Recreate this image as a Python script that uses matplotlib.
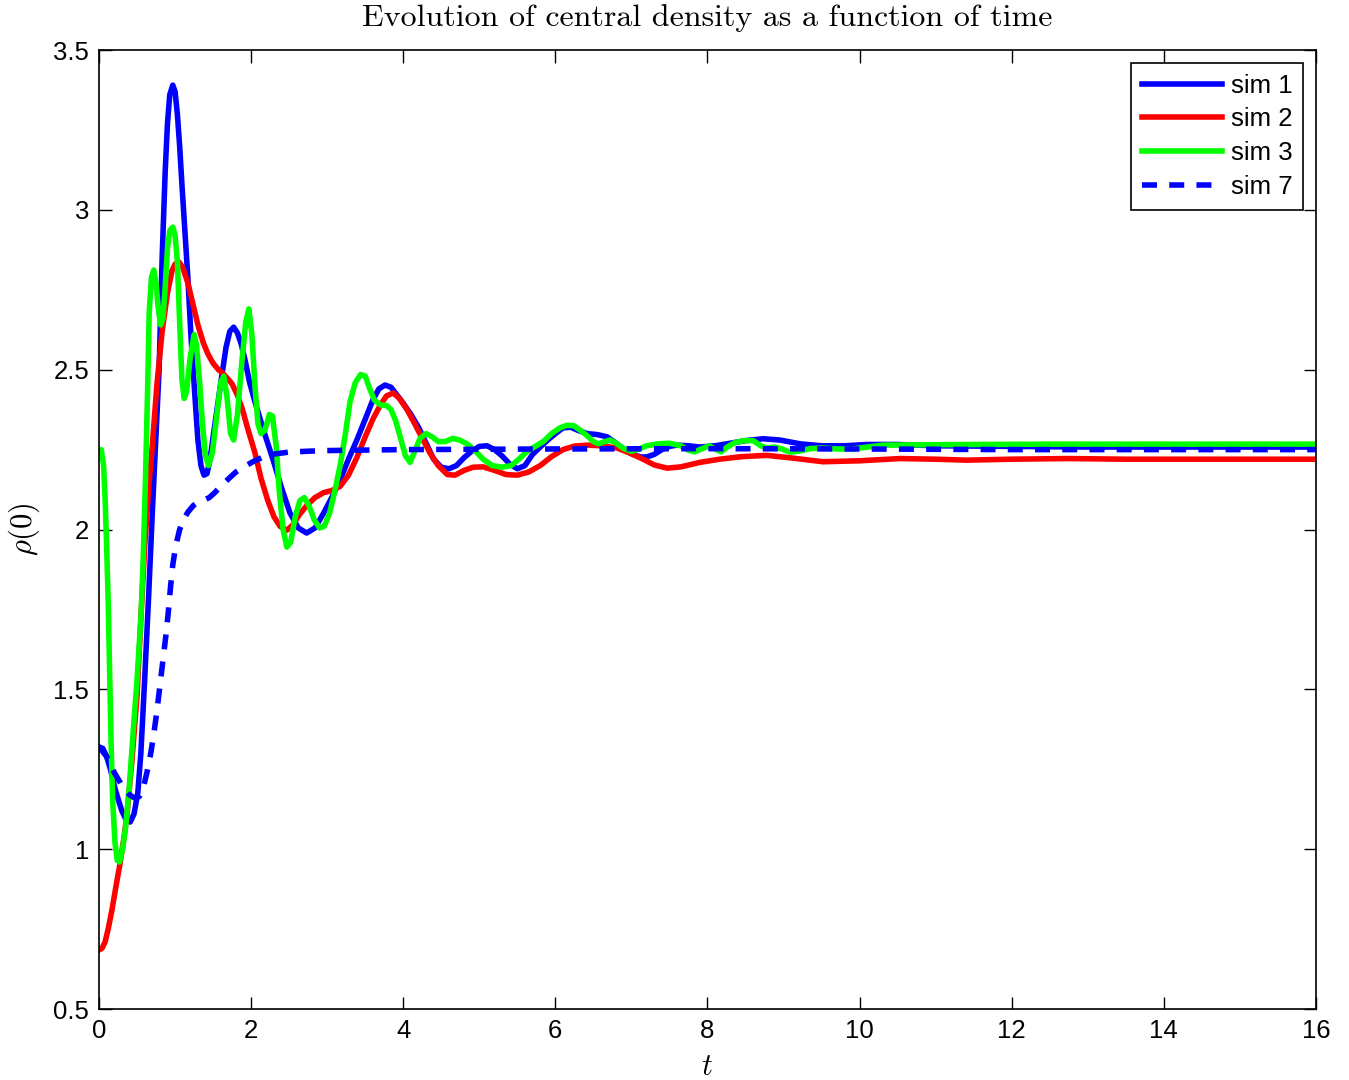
import numpy as np
import matplotlib
matplotlib.use("Agg")
import matplotlib.pyplot as plt

plt.rcParams["font.family"] = ["Liberation Sans", "DejaVu Sans"]
plt.rcParams["mathtext.fontset"] = "cm"

# sim 1 (blue, solid)
t1 = [0.0, 0.05, 0.1, 0.15, 0.21, 0.26, 0.3, 0.35, 0.41, 0.46, 0.51, 0.55, 0.6,
      0.65, 0.7, 0.75, 0.79, 0.83, 0.87, 0.9, 0.93, 0.97, 1.0, 1.03, 1.06, 1.09,
      1.13, 1.17, 1.21, 1.26, 1.3, 1.34, 1.38, 1.42, 1.46, 1.5, 1.56, 1.62, 1.67,
      1.72, 1.77, 1.82, 1.87, 1.92, 1.98, 2.05, 2.15, 2.29, 2.4, 2.51, 2.62,
      2.73, 2.84, 2.95, 3.06, 3.17, 3.28, 3.39, 3.5, 3.6, 3.68, 3.76, 3.84, 3.92,
      4.0, 4.1, 4.2, 4.3, 4.4, 4.5, 4.6, 4.7, 4.8, 4.9, 5.0, 5.1, 5.2, 5.3, 5.4,
      5.5, 5.6, 5.7, 5.8, 5.9, 6.0, 6.1, 6.2, 6.3, 6.42, 6.55, 6.68, 6.8, 6.9,
      7.02, 7.12, 7.2, 7.3, 7.4, 7.5, 7.6, 7.75, 7.9, 8.1, 8.3, 8.5, 8.73, 8.95,
      9.22, 9.5, 9.8, 10.1, 10.5, 11.0, 12.0, 13.0, 14.0, 16.0]
rho1 = [1.32, 1.315, 1.29, 1.25, 1.19, 1.15, 1.12, 1.095, 1.085, 1.11, 1.176,
        1.3, 1.53, 1.78, 2.05, 2.3, 2.5, 2.85, 3.12, 3.27, 3.36, 3.39, 3.37,
        3.3, 3.2, 3.08, 2.93, 2.78, 2.6, 2.42, 2.28, 2.2, 2.17, 2.175, 2.22,
        2.29, 2.39, 2.49, 2.57, 2.62, 2.633, 2.615, 2.58, 2.53, 2.46, 2.4, 2.32,
        2.217, 2.13, 2.052, 2.005, 1.989, 2.005, 2.05, 2.1, 2.155, 2.22, 2.28,
        2.345, 2.405, 2.44, 2.452, 2.445, 2.42, 2.395, 2.36, 2.32, 2.27, 2.22,
        2.195, 2.19, 2.2, 2.225, 2.245, 2.26, 2.262, 2.25, 2.23, 2.205, 2.19,
        2.2, 2.235, 2.258, 2.28, 2.3, 2.318, 2.32, 2.31, 2.3, 2.297, 2.29, 2.27,
        2.25, 2.235, 2.227, 2.227, 2.235, 2.25, 2.26, 2.264, 2.262, 2.258, 2.262,
        2.27, 2.278, 2.284, 2.28, 2.268, 2.262, 2.262, 2.266, 2.266, 2.262, 2.26,
        2.258, 2.258, 2.258]

# sim 2 (red)
t2 = [0.0, 0.04, 0.08, 0.12, 0.17, 0.22, 0.28, 0.33, 0.37, 0.43, 0.5, 0.55, 0.6,
      0.65, 0.7, 0.76, 0.83, 0.9, 0.96, 1.0, 1.05, 1.1, 1.17, 1.23, 1.3, 1.37,
      1.43, 1.5, 1.57, 1.62, 1.7, 1.75, 1.82, 1.88, 1.95, 2.05, 2.13, 2.22, 2.3,
      2.38, 2.47, 2.55, 2.63, 2.73, 2.84, 2.95, 3.06, 3.17, 3.28, 3.39, 3.5, 3.6,
      3.7, 3.78, 3.87, 3.95, 4.05, 4.13, 4.24, 4.35, 4.46, 4.58, 4.68, 4.8, 4.92,
      5.05, 5.2, 5.35, 5.5, 5.65, 5.8, 5.95, 6.1, 6.25, 6.42, 6.6, 6.81, 6.95,
      7.11, 7.3, 7.47, 7.65, 7.9, 8.16, 8.45, 8.78, 9.1, 9.52, 10.0, 10.53, 11.0,
      11.4, 12.0, 12.73, 13.5, 16.0]
rho2 = [0.685, 0.69, 0.71, 0.75, 0.81, 0.88, 0.96, 1.04, 1.113, 1.27, 1.48, 1.72,
        1.945, 2.12, 2.26, 2.45, 2.62, 2.74, 2.81, 2.83, 2.837, 2.82, 2.77, 2.71,
        2.64, 2.585, 2.55, 2.52, 2.5, 2.49, 2.47, 2.455, 2.42, 2.38, 2.32, 2.24,
        2.16, 2.09, 2.04, 2.01, 1.998, 2.015, 2.045, 2.075, 2.1, 2.115, 2.122,
        2.135, 2.17, 2.225, 2.29, 2.345, 2.39, 2.418, 2.427, 2.41, 2.375, 2.34,
        2.29, 2.24, 2.2, 2.172, 2.17, 2.185, 2.195, 2.196, 2.185, 2.172, 2.17,
        2.18, 2.2, 2.228, 2.25, 2.261, 2.264, 2.262, 2.255, 2.242, 2.225, 2.202,
        2.192, 2.196, 2.21, 2.22, 2.228, 2.232, 2.224, 2.212, 2.215, 2.222, 2.22,
        2.217, 2.22, 2.222, 2.22, 2.22]

# sim 3 (green)
t3 = [0.0, 0.03, 0.06, 0.08, 0.1, 0.12, 0.14, 0.16, 0.18, 0.21, 0.24, 0.27, 0.31,
      0.35, 0.4, 0.45, 0.5, 0.55, 0.58, 0.61, 0.64, 0.66, 0.69, 0.72, 0.75, 0.78,
      0.81, 0.84, 0.87, 0.9, 0.93, 0.97, 1.0, 1.03, 1.06, 1.09, 1.12, 1.15, 1.2,
      1.25, 1.28, 1.32, 1.36, 1.4, 1.44, 1.49, 1.55, 1.6, 1.64, 1.68, 1.73, 1.77,
      1.82, 1.88, 1.93, 1.97, 2.01, 2.05, 2.09, 2.13, 2.18, 2.24, 2.28, 2.33,
      2.37, 2.42, 2.47, 2.52, 2.58, 2.64, 2.7, 2.76, 2.83, 2.9, 2.96, 3.03, 3.1,
      3.17, 3.24, 3.3, 3.37, 3.44, 3.5, 3.56, 3.62, 3.7, 3.78, 3.84, 3.9, 3.96,
      4.03, 4.09, 4.16, 4.22, 4.3, 4.38, 4.46, 4.55, 4.65, 4.74, 4.84, 4.95,
      5.05, 5.17, 5.3, 5.42, 5.52, 5.63, 5.75, 5.84, 5.95, 6.06, 6.15, 6.24,
      6.33, 6.42, 6.5, 6.57, 6.65, 6.72, 6.8, 6.9, 7.0, 7.1, 7.2, 7.35, 7.5,
      7.65, 7.75, 7.83, 7.92, 8.02, 8.1, 8.18, 8.26, 8.36, 8.48, 8.6, 8.7, 8.78,
      8.88, 8.98, 9.08, 9.2, 9.35, 9.5, 9.7, 9.9, 10.1, 10.31, 10.8, 11.5, 12.5,
      14.0, 16.0]
rho3 = [2.242, 2.25, 2.2, 2.1, 1.95, 1.78, 1.55, 1.32, 1.15, 1.02, 0.965, 0.96,
        1.0, 1.07, 1.2, 1.37, 1.53, 1.72, 1.9, 2.15, 2.45, 2.68, 2.79, 2.812,
        2.77, 2.69, 2.64, 2.66, 2.76, 2.88, 2.935, 2.946, 2.92, 2.84, 2.65, 2.47,
        2.41, 2.43, 2.54, 2.61, 2.58, 2.47, 2.33, 2.23, 2.2, 2.24, 2.36, 2.46,
        2.48, 2.42, 2.3, 2.28, 2.36, 2.53, 2.65, 2.69, 2.61, 2.45, 2.33, 2.3,
        2.31, 2.36, 2.355, 2.26, 2.12, 2.0, 1.945, 1.96, 2.04, 2.09, 2.1, 2.075,
        2.03, 2.005, 2.01, 2.05, 2.12, 2.2, 2.3, 2.4, 2.46, 2.485, 2.48, 2.44,
        2.405, 2.39, 2.388, 2.375, 2.34, 2.29, 2.23, 2.21, 2.25, 2.285, 2.3,
        2.29, 2.275, 2.275, 2.285, 2.28, 2.268, 2.245, 2.22, 2.2, 2.195, 2.2,
        2.22, 2.245, 2.262, 2.275, 2.3, 2.318, 2.326, 2.325, 2.31, 2.293, 2.275,
        2.268, 2.275, 2.28, 2.27, 2.253, 2.245, 2.252, 2.262, 2.268, 2.27, 2.262,
        2.248, 2.243, 2.252, 2.262, 2.252, 2.243, 2.258, 2.272, 2.278, 2.278,
        2.262, 2.255, 2.258, 2.252, 2.242, 2.245, 2.253, 2.255, 2.252, 2.252,
        2.258, 2.264, 2.265, 2.266, 2.267, 2.267, 2.267]

# sim 7 (blue, dashed)
t7 = [0.0, 0.1, 0.2, 0.3, 0.4, 0.47, 0.53, 0.58, 0.63, 0.68, 0.72, 0.76, 0.8,
      0.84, 0.88, 0.91, 0.94, 0.97, 1.01, 1.06, 1.12, 1.17, 1.24, 1.3, 1.38,
      1.45, 1.52, 1.6, 1.7, 1.8, 1.92, 2.03, 2.14, 2.3, 2.49, 2.75, 3.0, 4.0,
      6.0, 8.0, 10.0, 12.0, 16.0]
rho7 = [1.32, 1.29, 1.24, 1.2, 1.17, 1.16, 1.165, 1.19, 1.24, 1.3, 1.36, 1.43,
        1.51, 1.59, 1.67, 1.74, 1.82, 1.89, 1.95, 2.0, 2.035, 2.055, 2.075,
        2.085, 2.092, 2.1, 2.115, 2.135, 2.158, 2.18, 2.198, 2.213, 2.225, 2.236,
        2.242, 2.245, 2.247, 2.25, 2.252, 2.253, 2.252, 2.25, 2.25]

fig = plt.figure(figsize=(13.49, 10.8), dpi=100)
ax = fig.add_axes([0.0734, 0.0657, 0.9021, 0.888])

lw = 4.0
ax.plot(t1, rho1, color="#0000ff", lw=lw, label="sim 1")
ax.plot(t2, rho2, color="#ff0000", lw=lw, label="sim 2")
ax.plot(t3, rho3, color="#00ff00", lw=lw, label="sim 3")
ax.plot(t7, rho7, color="#0000ff", lw=lw, dashes=(2.7, 2.2), label="sim 7")

ax.set_xlim(0, 16)
ax.set_ylim(0.5, 3.5)
ax.set_xticks(np.arange(0, 17, 2))
ax.set_yticks([0.5, 1, 1.5, 2, 2.5, 3, 3.5])
ax.set_yticklabels(["0.5", "1", "1.5", "2", "2.5", "3", "3.5"])
ax.tick_params(direction="in", length=9, width=1, top=True, right=True,
               labelsize=18.5, pad=7)
for s in ax.spines.values():
    s.set_linewidth(1.2)

ax.set_title("Evolution of central density as a function of time",
             fontfamily="cmr10", fontsize=23, pad=17)
ax.set_xlabel("$t$", fontsize=22, labelpad=7)
ax.set_ylabel(r"$\rho(0)$", fontsize=22, labelpad=8)

leg = ax.legend(loc="upper right", fontsize=18.5, handlelength=3.1,
                handletextpad=0.35, fancybox=False, framealpha=1,
                edgecolor="black", borderaxespad=0.5, labelspacing=0.38,
                borderpad=0.42)
leg.get_frame().set_linewidth(1.2)

fig.savefig("out.png", dpi=100)
